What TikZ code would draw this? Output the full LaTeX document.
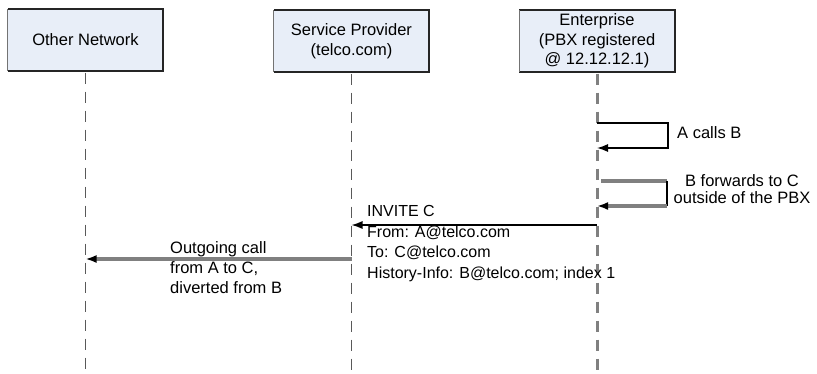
\documentclass[tikz,border=0pt]{standalone}
\usepackage{fontspec}
\setmainfont{Liberation Sans}
\usetikzlibrary{arrows.meta}
\definecolor{boxfill}{HTML}{E8EEF8}
\definecolor{lifegray}{HTML}{808080}
\definecolor{edgedark}{HTML}{252525}

\begin{document}
\begin{tikzpicture}[x=1pt,y=-1pt,
  font=\fontsize{16.5}{19.5}\selectfont,
  party/.style={fill=boxfill, minimum width=155pt, minimum height=62pt,
                inner sep=0pt, align=center},
  edgeshade/.style={draw=edgedark, line width=2.2pt},
  edgelight/.style={draw=black!55, line width=1pt},
  life/.style={draw=black!65, line width=1.3pt, dash pattern=on 11pt off 8pt},
  lifethick/.style={draw=lifegray, line width=3pt, dash pattern=on 11pt off 8pt},
  tip/.style={-{Latex[length=11pt,width=8pt,color=black]}},
  thinmsg/.style={draw=black, line width=1.3pt},
  thickmsg/.style={draw=lifegray, line width=3.2pt},
  lbl/.style={inner sep=0pt, align=left}
]
\useasboundingbox (0,0) rectangle (817,373);

% participants
\node[party] (on)  at (85.5,40) {Other Network};
\node[party] (sp)  at (351.5,41) {Service Provider\\(telco.com)};
\node[party] (ent) at (597,41) {Enterprise\\(PBX registered\\@ 12.12.12.1)};

\foreach \n in {on,sp,ent}{
  \draw[edgeshade] (\n.north west) -- (\n.north east) -- (\n.south east) -- (\n.south west);
  \draw[edgelight] (\n.south west) -- (\n.north west);
}

% lifeline ends
\coordinate (onEnd)  at (on.south  |- 0,373);
\coordinate (spEnd)  at (sp.south  |- 0,373);
\coordinate (entEnd) at (ent.south |- 0,373);

\draw[life] ([yshift=-1.5pt]on.south) -- (onEnd);
\draw[life] ([yshift=-1.5pt]sp.south) -- (spEnd);
\draw[lifethick] ([yshift=-1.5pt]ent.south) -- (entEnd);

% message rows
\coordinate (r1) at (0,123);
\coordinate (r1b) at (0,148);
\coordinate (r2) at (0,181);
\coordinate (r2b) at (0,206);
\coordinate (r3) at (0,225);
\coordinate (r4) at (0,259);

% A calls B (self message)
\coordinate (loopA) at (668,123);
\coordinate (loopAb) at (668,148);
\draw[thinmsg, tip] (ent.south |- r1) -- (loopA) -- (loopAb) -- (ent.south |- r1b);
\node[lbl, anchor=base west] (lA) at (677,138) {A calls B};

% B forwards to C (self message); base anchor = last line
\coordinate (loopB) at (667,181);
\coordinate (loopBb) at (667,206);
\draw[thickmsg] ([xshift=4pt]ent.south |- r2) -- (loopB);
\draw[thinmsg] (loopB) -- (loopBb);
\draw[thickmsg, tip] (loopBb) -- (ent.south |- r2b);
\node[inner sep=0pt, align=center, anchor=base, font=\fontsize{16.5}{17}\selectfont]
  (lB) at (742,203) {B forwards to C\\outside of the PBX};

% INVITE towards the service provider
\draw[thinmsg, tip] (ent.south |- r3) -- (sp.south |- r3);
\node[lbl, anchor=base west, font=\fontsize{16}{20.5}\selectfont] (lInv) at (367,278)
  {INVITE C\\From: A@telco.com\\To: C@telco.com\\History-Info: B@telco.com; index 1};

% outgoing call to the other network
\draw[thickmsg, tip] (sp.south |- r4) -- (on.south |- r4);
\node[lbl, anchor=base west, font=\fontsize{16.5}{20}\selectfont] (lOut) at (170,293)
  {Outgoing call\\from A to C,\\diverted from B};
\end{tikzpicture}
\end{document}
